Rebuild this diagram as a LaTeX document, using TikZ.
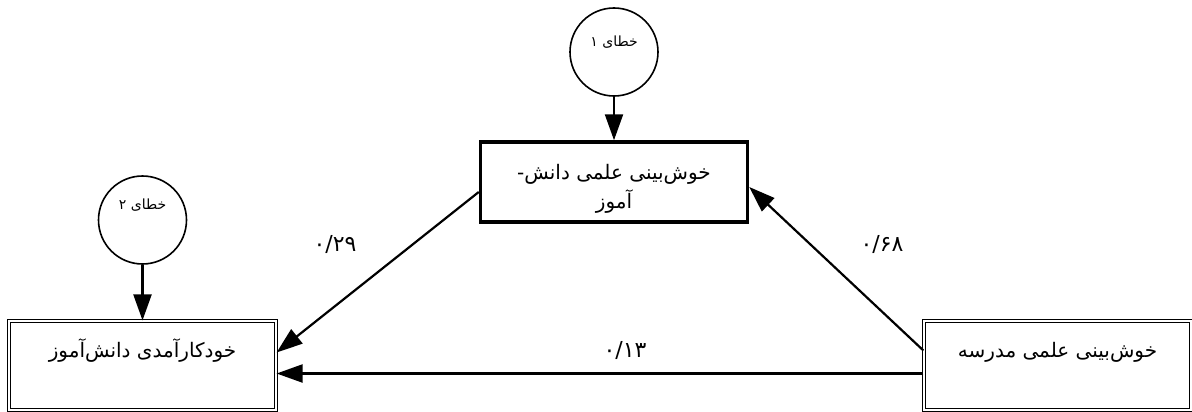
\documentclass[tikz,border=0pt]{standalone}
\usepackage{fontspec}
\newfontfamily\arabicfont[Script=Arabic]{DejaVu Sans}
\TeXXeTstate=1
\usetikzlibrary{arrows.meta}
\begin{document}
\begin{tikzpicture}[x=1pt,y=-1pt,
	box/.style={draw,rectangle,inner sep=0pt,minimum width=267pt,font=\arabicfont\fontsize{20}{29}\selectfont},
	dbox/.style={box,double,line width=1.2pt,double distance=1.5pt},
	err/.style={circle,draw,line width=1.6pt,minimum size=88pt,inner sep=0pt,text height=6pt,font=\arabicfont\fontsize{14}{15}\selectfont},
	coef/.style={font=\arabicfont\fontsize{22}{24}\selectfont},
	path/.style={line width=2.2pt,-{Triangle[length=26pt,width=18pt]}}]
	\useasboundingbox(0,0)rectangle(1192,412);
	\node(M)at(614,182)[box,line width=3.5pt,align=center,text height=66pt,text depth=14pt]{\beginR خوش‌بینی علمی دانش-\endR\\\beginR آموز\endR};
	\node(Y)at(142.5,365.5)[dbox,text height=36pt,text depth=53pt]{\beginR خودکارآمدی دانش‌آموز\endR};
	\node(X)at(1057.5,365.5)[dbox,text height=36pt,text depth=53pt]{\beginR خوش‌بینی علمی مدرسه\endR};
	\node(e1)at(614,52)[err,text depth=16pt]{\beginR خطای ۱\endR};
	\node(e2)at(142.5,220)[err,text depth=28pt]{\beginR خطای ۲\endR};
	\draw[path](e1)--(M);
	\draw[path](e2)--(Y);
	\draw[path]([yshift=-10pt]M.west)--([yshift=13pt]Y.east);
	\draw[path]([yshift=15pt]X.west)--([yshift=-5pt]M.east);
	\draw[path]([yshift=-8pt]X.west)--([yshift=-8pt]Y.east);
	\node(c29)at(335,245)[coef]{۰/۲۹};
	\node(c68)at(882,245)[coef]{۰/۶۸};
	\node(c13)at(625,350)[coef]{۰/۱۳};
\end{tikzpicture}
\end{document}
